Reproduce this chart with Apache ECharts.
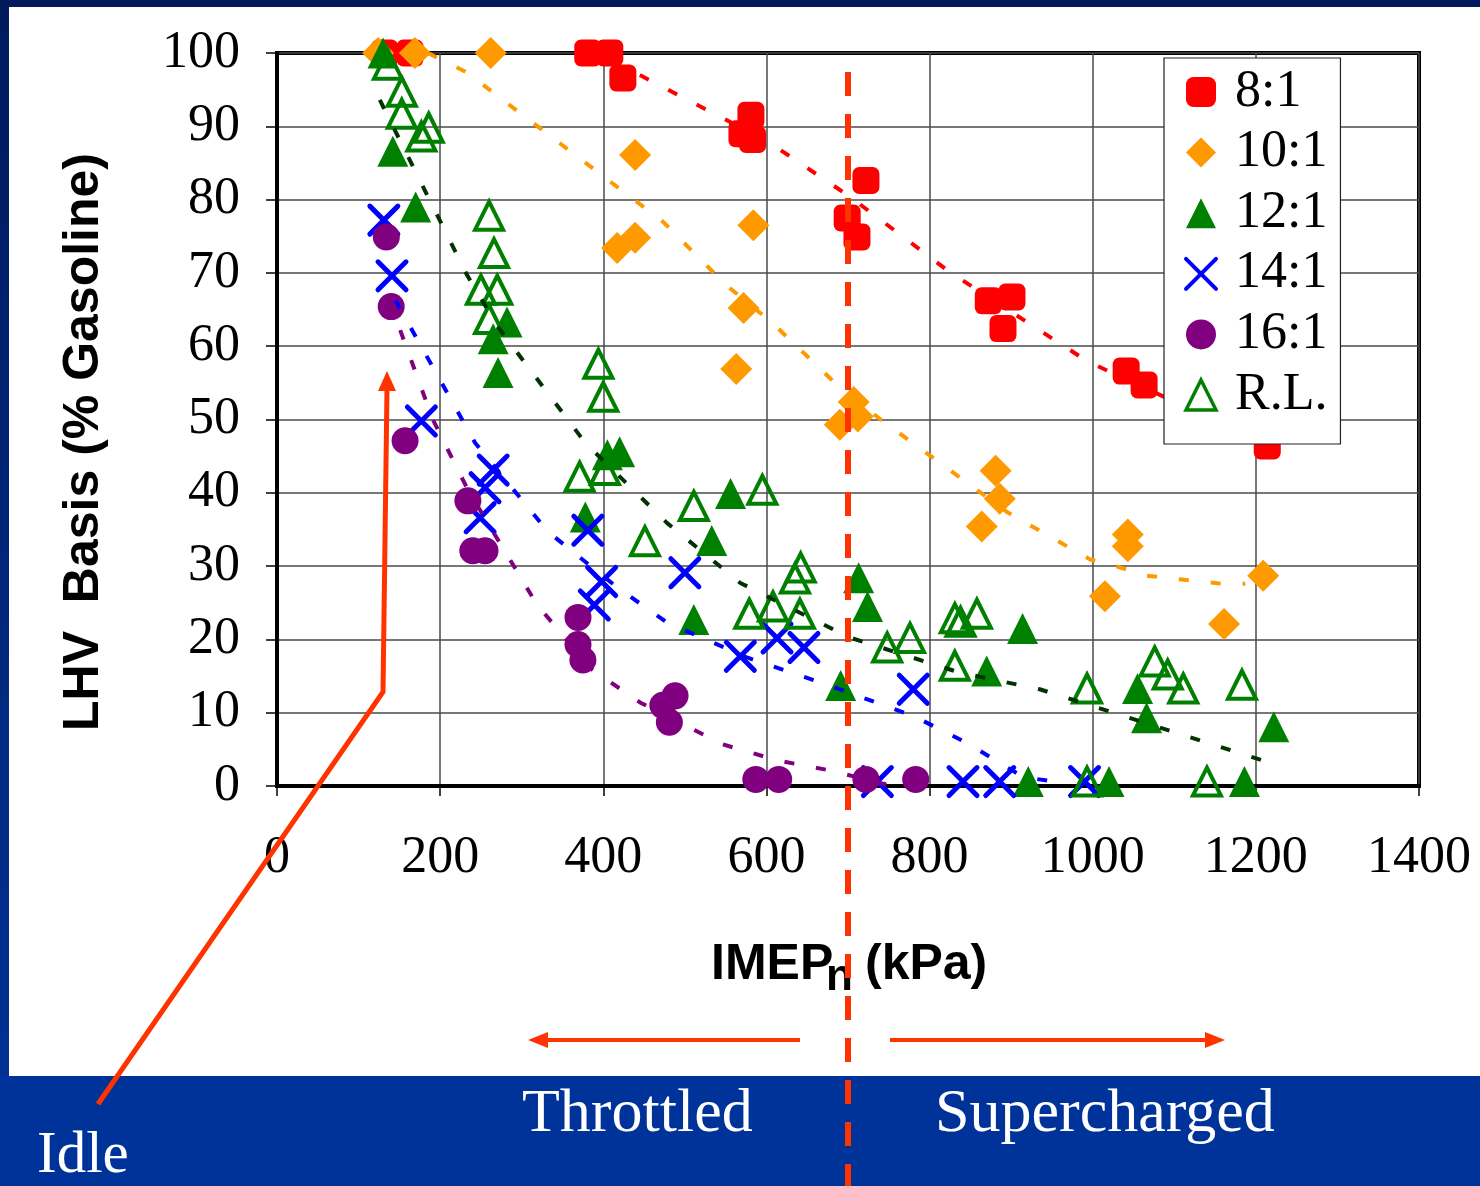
<!DOCTYPE html>
<html>
<head>
<meta charset="utf-8">
<script src="https://cdn.jsdelivr.net/npm/echarts@6/dist/echarts.min.js"></script>
<style>
  html, body { margin: 0; padding: 0; background: #ffffff; }
  #chart { width: 1480px; height: 1186px; }
</style>
</head>
<body>
<div id="chart"></div>
<script>
// Compression ratio series: [IMEPn kPa, LHV basis % of gasoline]
const cr8 = [[132,100],[163,100],[381,100],[408,100],[424,96.6],[570,89],[581,91.5],[583,88.2],
  [699,77.5],[711,74.9],[722,82.6],[872,66.2],[890,62.4],[901,66.7],[1041,56.6],[1063,54.7],[1214,46.4]];
const cr10 = [[124,100],[169,100],[262,100],[417,73.4],[439,74.8],[439,86.1],[563,56.9],[572,65.2],
  [584,76.5],[690,49.3],[707,52.4],[712,50.4],[864,35.4],[881,43.0],[886,39.2],[1015,25.9],
  [1043,34.3],[1043,32.7],[1161,22.1],[1209,28.7]];
const cr12 = [[130,100],[142,86.6],[170,79.0],[265,61.0],[271,56.4],[282,63.3],[378,36.7],[405,45.2],
  [420,45.6],[511,22.7],[533,33.5],[556,39.9],[691,13.7],[713,28.4],[724,24.5],[870,15.7],
  [914,21.5],[921,0.6],[1020,0.6],[1055,13.3],[1066,9.3],[1186,0.6],[1222,8.1]];
const cr14 = [[131,77.2],[141,69.6],[177,49.8],[249,36.6],[255,40.7],[265,43.1],[381,34.9],[389,24.7],
  [398,27.9],[500,29.1],[568,17.7],[613,20.2],[646,18.9],[736,0.6],[780,13.2],[841,0.6],
  [886,0.6],[990,0.6]];
const cr16 = [[134,74.9],[140,65.4],[157,47.1],[234,38.9],[240,32.1],[255,32.1],[369,23.0],[369,19.3],
  [375,17.2],[473,11.0],[481,8.7],[488,12.3],[587,0.9],[615,0.9],[722,0.9],[783,0.9]];
const crRL = [[136,98.4],[153,94.7],[153,91.7],[177,88.6],[186,89.8],[250,67.7],[260,77.8],[260,63.7],
  [266,72.7],[270,67.7],[371,42.2],[394,57.6],[400,53.1],[402,43.1],[451,33.4],[511,38.2],
  [579,23.5],[595,40.4],[608,24.5],[635,28.3],[641,23.5],[642,29.8],[748,18.9],[776,20.2],
  [831,16.4],[831,22.9],[838,22.4],[858,23.5],[993,13.3],[993,0.6],[1076,17.0],[1092,15.2],
  [1111,13.3],[1140,0.6],[1183,13.8]];

// Trend curves through each ratio's points
const trend8 = [[410,99],[602,87.9],[701,80.5],[825,70.1],[994,57.9],[1138,50.5]];
const trend10 = [[185,100],[232,97.4],[473,77.0],[550,68.4],[607,63.2],[684,55.0],[740,50.0],
  [896,37.3],[997,30.9],[1031,29.9],[1065,28.7],[1166,27.5],[1187,27.6]];
const trend12 = [[126,93.6],[233,69.7],[271,62.6],[378,46.8],[478,35.9],[568,27.7],[701,20.3],
  [836,15.5],[935,13.2],[1211,3.4]];
const trend14 = [[145,66.3],[243,46.8],[332,34.7],[417,27.1],[478,22.3],[577,17.5],[680,13.6],
  [781,9.5],[847,5.8],[915,1.2],[960,0.5]];
const trend16 = [[151,62.2],[191,50.0],[234,40.4],[319,24.7],[386,15.9],[445,11.4],[546,5.7],
  [613,3.5],[679,2.1],[747,0.2]];

const seriesNames = ['8:1', '10:1', '12:1', '14:1', '16:1', 'R.L.'];
const xAxisRange = [0, 1400, 200];   // min, max, step (kPa)
const yAxisRange = [0, 100, 10];     // min, max, step (%)
const yTitle = 'LHV  Basis (% Gasoline)';
const xTitleParts = ['IMEP', 'n', '(kPa)'];
const bandLabels = ['Idle', 'Throttled', 'Supercharged'];

const serif = '"Liberation Serif", "Times New Roman", serif';
const sans = '"Liberation Sans", Arial, sans-serif';
const ACCENT = '#ff3300';

const chart = echarts.init(document.getElementById('chart'), null, { renderer: 'canvas' });

function scatter(name, data, symbol, size, style) {
  return {
    name, type: 'scatter', data, symbol, symbolSize: size,
    itemStyle: Object.assign({ opacity: 1 }, style), z: 2, silent: true, animation: false,
    emphasis: { disabled: true }
  };
}
function trend(name, data, color) {
  return {
    name, type: 'line', data, symbol: 'none', z: 3, silent: true, animation: false,
    lineStyle: { color, width: 4, type: [10, 22], cap: 'butt', opacity: 1 },
    emphasis: { disabled: true }
  };
}

const crossPath = 'path://M0,0L10,10M10,0L0,10';
const plainNumber = v => String(v);

const option = {
  animation: false,
  backgroundColor: 'transparent',
  grid: {
    left: 277, right: 61, top: 53, bottom: 400,
    show: true, borderColor: '#000', borderWidth: 4, backgroundColor: 'transparent'
  },
  xAxis: {
    type: 'value', min: xAxisRange[0], max: xAxisRange[1], interval: xAxisRange[2],
    axisLine: { show: true, onZero: false, lineStyle: { color: '#000', width: 4 } },
    axisTick: { show: true, inside: false, length: 10, lineStyle: { color: '#000', width: 1.5 } },
    axisLabel: { margin: 46, fontFamily: serif, fontSize: 52, color: '#000', formatter: plainNumber },
    splitLine: { show: true, lineStyle: { color: '#4a4a4a', width: 1.5 } }
  },
  yAxis: {
    type: 'value', min: yAxisRange[0], max: yAxisRange[1], interval: yAxisRange[2],
    axisLine: { show: true, onZero: false, lineStyle: { color: '#000', width: 4 } },
    axisTick: { show: true, inside: false, length: 11, lineStyle: { color: '#000', width: 1.5 } },
    axisLabel: { margin: 37, fontFamily: serif, fontSize: 52, color: '#000', formatter: plainNumber },
    splitLine: { show: true, lineStyle: { color: '#4a4a4a', width: 1.5 } }
  },
  legend: {
    show: true, orient: 'vertical', left: 1164, top: 58,
    padding: [8, 13, 23, 20], itemGap: 8.6, itemWidth: 30, itemHeight: 30,
    backgroundColor: '#fff', borderColor: '#222', borderWidth: 1.2,
    textStyle: { fontFamily: serif, fontSize: 52, color: '#000', padding: [0, 0, 0, 14] },
    selectedMode: false,
    data: [
      { name: '8:1' },
      { name: '10:1' },
      { name: '12:1' },
      { name: '14:1', itemStyle: { borderWidth: 4 } },
      { name: '16:1' },
      { name: 'R.L.', itemStyle: { borderWidth: 3.5 } }
    ]
  },
  series: [
    scatter(seriesNames[0], cr8, 'roundRect', 27, { color: '#ff0000' }),
    scatter(seriesNames[1], cr10, 'diamond', 32, { color: '#ff9900' }),
    scatter(seriesNames[2], cr12, 'triangle', 31, { color: '#008000' }),
    scatter(seriesNames[3], cr14, crossPath, 28,
      { color: 'rgba(0,0,0,0)', borderColor: '#0000ff', borderWidth: 5, borderCap: 'round' }),
    scatter(seriesNames[4], cr16, 'circle', 27, { color: '#800080' }),
    scatter(seriesNames[5], crRL, 'triangle', 28,
      { color: 'rgba(0,0,0,0)', borderColor: '#008000', borderWidth: 4 }),
    trend('trend 8:1', trend8, '#ff0000'),
    trend('trend 10:1', trend10, '#ff9900'),
    trend('trend 12:1', trend12, '#003300'),
    trend('trend 14:1', trend14, '#0000ff'),
    trend('trend 16:1', trend16, '#800080')
  ],
  graphic: [
    // slide frame: dark blue edge, white panel, blue caption band
    { type: 'rect', z: -100, silent: true, shape: { x: 0, y: 0, width: 1480, height: 1186 },
      style: { fill: new echarts.graphic.LinearGradient(0, 0, 0, 1, [
        { offset: 0, color: '#001a5c' }, { offset: 1, color: '#003399' }]) } },
    { type: 'rect', z: -99, silent: true, shape: { x: 9, y: 7, width: 1471, height: 1069 },
      style: { fill: '#ffffff' } },
    { type: 'rect', z: -99, silent: true, shape: { x: 0, y: 1076, width: 1480, height: 110 },
      style: { fill: '#003399' } },

    // axis titles
    { type: 'text', z: 5, silent: true, x: 84, y: 442, rotation: Math.PI / 2,
      style: { text: yTitle, font: 'bold 50px ' + sans, fill: '#000',
        align: 'center', verticalAlign: 'middle' } },
    { type: 'text', z: 5, silent: true, x: 711, y: 965,
      style: { text: xTitleParts[0], font: 'bold 50px ' + sans, fill: '#000',
        align: 'left', verticalAlign: 'middle' } },
    { type: 'text', z: 5, silent: true, x: 826, y: 978,
      style: { text: xTitleParts[1], font: 'bold 44px ' + sans, fill: '#000',
        align: 'left', verticalAlign: 'middle' } },
    { type: 'text', z: 5, silent: true, x: 865, y: 965,
      style: { text: xTitleParts[2], font: 'bold 50px ' + sans, fill: '#000',
        align: 'left', verticalAlign: 'middle' } },

    // 700 kPa divider between throttled and supercharged operation
    { type: 'line', z: 10, silent: true,
      shape: { x1: 848, y1: 72, x2: 848, y2: 1186 },
      style: { stroke: ACCENT, lineWidth: 6, lineDash: [24, 18] } },

    // direction arrows
    { type: 'line', z: 10, silent: true, shape: { x1: 800, y1: 1040, x2: 542, y2: 1040 },
      style: { stroke: ACCENT, lineWidth: 4 } },
    { type: 'polygon', z: 10, silent: true,
      shape: { points: [[528, 1040], [548, 1032], [548, 1048]] }, style: { fill: ACCENT } },
    { type: 'line', z: 10, silent: true, shape: { x1: 890, y1: 1040, x2: 1211, y2: 1040 },
      style: { stroke: ACCENT, lineWidth: 4 } },
    { type: 'polygon', z: 10, silent: true,
      shape: { points: [[1225, 1040], [1205, 1032], [1205, 1048]] }, style: { fill: ACCENT } },

    // idle pointer
    { type: 'polyline', z: 10, silent: true,
      shape: { points: [[98, 1104], [383, 692], [387, 388]] },
      style: { stroke: ACCENT, lineWidth: 5, fill: null } },
    { type: 'polygon', z: 10, silent: true,
      shape: { points: [[387, 371], [378, 391], [396, 391]] }, style: { fill: ACCENT } },

    // caption band labels
    { type: 'text', z: 10, silent: true, x: 37, y: 1156,
      style: { text: bandLabels[0], font: '59px ' + serif, fill: '#ffffff',
        align: 'left', verticalAlign: 'middle' } },
    { type: 'text', z: 10, silent: true, x: 522, y: 1115,
      style: { text: bandLabels[1], font: '62px ' + serif, fill: '#ffffff',
        align: 'left', verticalAlign: 'middle' } },
    { type: 'text', z: 10, silent: true, x: 935, y: 1115,
      style: { text: bandLabels[2], font: '62px ' + serif, fill: '#ffffff',
        align: 'left', verticalAlign: 'middle' } }
  ]
};

chart.setOption(option);
</script>
</body>
</html>
